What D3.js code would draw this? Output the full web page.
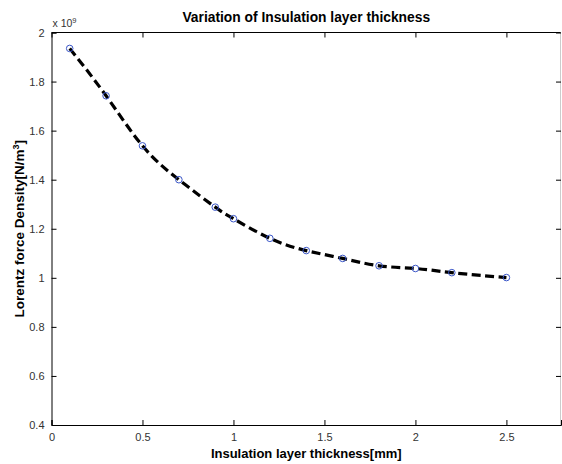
<!DOCTYPE html>
<html>
<head>
<meta charset="utf-8">
<script src="https://cdn.jsdelivr.net/npm/d3@7"></script>
<style>
  body { margin: 0; background: #fff; }
  svg { display: block; font-family: "Liberation Sans", Arial, sans-serif; }
</style>
</head>
<body>
<div id="chart"></div>
<script>
// Insulation layer thickness [mm] and Lorentz force density [x 1e9 N/m^3]
const thickness = [0.1, 0.3, 0.5, 0.7, 0.9, 1.0, 1.2, 1.4, 1.6, 1.8, 2.0, 2.2, 2.5];
const density = [1.935, 1.742, 1.538, 1.400, 1.288, 1.241, 1.161, 1.111, 1.079, 1.049, 1.038, 1.021, 1.001];
const xTicks = [0, 0.5, 1, 1.5, 2, 2.5];
const yTicks = [0.4, 0.6, 0.8, 1, 1.2, 1.4, 1.6, 1.8, 2];

const width = 562, height = 464;
const margin = {top: 32.5, right: 1, bottom: 39, left: 51.5};

const svg = d3.select('#chart').append('svg')
    .attr('width', width)
    .attr('height', height);

const x = d3.scaleLinear()
    .domain([0, 2.8])
    .range([margin.left, width - margin.right]);

const y = d3.scaleLinear()
    .domain([0.4, 2])
    .range([height - margin.bottom, margin.top]);

const data = thickness.map((t, i) => ({x: t, y: density[i]}));

// box
svg.append('line')
    .attr('x1', x(0)).attr('x2', x(2.8))
    .attr('y1', y(2)).attr('y2', y(2))
    .attr('stroke', '#000');
svg.append('line')
    .attr('x1', x(2.8) - 0.5).attr('x2', x(2.8) - 0.5)
    .attr('y1', y(2)).attr('y2', y(0.4))
    .attr('stroke', '#ccc');

// bottom axis
svg.append('g')
    .attr('transform', `translate(0,${y(0.4)})`)
    .call(d3.axisBottom(x).tickValues(xTicks).tickSize(-5).tickPadding(8).tickFormat(d3.format('')))
    .call(g => g.select('.domain').attr('stroke', '#000'))
    .call(g => g.selectAll('.tick text').attr('fill', '#333').style('font-size', '11px'));

// left axis
svg.append('g')
    .attr('transform', `translate(${x(0)},0)`)
    .call(d3.axisLeft(y).tickValues(yTicks).tickSize(-5).tickPadding(7).tickFormat(d3.format('')))
    .call(g => g.select('.domain').attr('stroke', '#000'))
    .call(g => g.selectAll('.tick text').attr('fill', '#333').style('font-size', '11px'));

// mirrored ticks on top and right
svg.append('g')
    .selectAll('line')
    .data(xTicks)
    .join('line')
      .attr('x1', d => x(d) + 0.5).attr('x2', d => x(d) + 0.5)
      .attr('y1', y(2)).attr('y2', y(2) + 5)
      .attr('stroke', '#000');
svg.append('g')
    .selectAll('line')
    .data(yTicks)
    .join('line')
      .attr('x1', x(2.8) - 5).attr('x2', x(2.8))
      .attr('y1', d => y(d) + 0.5).attr('y2', d => y(d) + 0.5)
      .attr('stroke', '#000');

// dashed fitted curve
svg.append('path')
    .datum(data)
    .attr('d', d3.line().x(d => x(d.x)).y(d => y(d.y)).curve(d3.curveNatural))
    .attr('fill', 'none')
    .attr('stroke', '#000')
    .attr('stroke-width', 3.2)
    .attr('stroke-dasharray', '9,4.5');

// markers
svg.append('g')
    .selectAll('circle')
    .data(data)
    .join('circle')
      .attr('cx', d => x(d.x))
      .attr('cy', d => y(d.y))
      .attr('r', 3.3)
      .attr('fill', 'none')
      .attr('stroke', '#3a56c8')
      .attr('stroke-width', 1);

// exponent label
const expo = svg.append('text')
    .attr('x', x(0) + 1)
    .attr('y', y(2) - 6)
    .attr('fill', '#333')
    .style('font-size', '10.5px');
expo.append('tspan').text('x 10');
expo.append('tspan').attr('dy', -4).style('font-size', '7.5px').text('9');

// title
svg.append('text')
    .attr('x', (x(0) + x(2.8)) / 2)
    .attr('y', 22)
    .attr('text-anchor', 'middle')
    .style('font-size', '13.8px')
    .style('font-weight', 'bold')
    .text('Variation of Insulation layer thickness');

// x label
svg.append('text')
    .attr('x', (x(0) + x(2.8)) / 2)
    .attr('y', 458)
    .attr('text-anchor', 'middle')
    .style('font-size', '13px')
    .style('font-weight', 'bold')
    .text('Insulation layer thickness[mm]');

// y label
const yl = svg.append('text')
    .attr('transform', `translate(24,${(y(0.4) + y(2)) / 2}) rotate(-90)`)
    .attr('text-anchor', 'middle')
    .style('font-size', '13.5px')
    .style('font-weight', 'bold');
yl.append('tspan').text('Lorentz force Density[N/m');
yl.append('tspan').attr('dy', -5).style('font-size', '9px').text('3');
yl.append('tspan').attr('dy', 5).text(']');
</script>
</body>
</html>
